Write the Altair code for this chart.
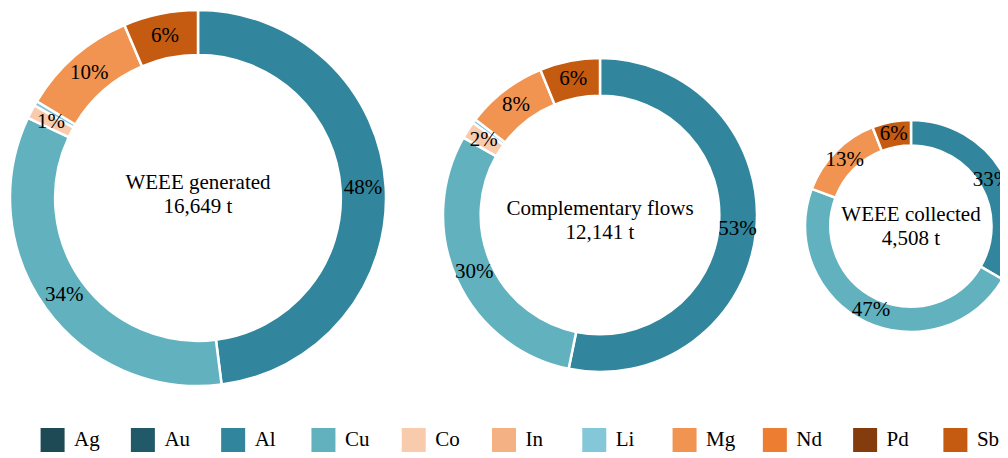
import altair as alt
import pandas as pd

elements = ["Ag", "Au", "Al", "Cu", "Co", "In", "Li", "Mg", "Nd", "Pd", "Sb"]
colors = ["#1d4a55", "#215968", "#31859c", "#61b2be", "#f8cbad", "#f4b183",
          "#84c7d8", "#f19452", "#ed7d31", "#843c0c", "#c55a11"]

# share (%) of each element in each flow
gen_elements = ["Al", "Cu", "Co", "Li", "Mg", "Sb"]
gen_values = [48.0, 34.0, 1.2, 0.4, 10.0, 6.4]
comp_elements = ["Al", "Cu", "Co", "Li", "Mg", "Sb"]
comp_values = [53.2, 30.0, 1.8, 0.4, 8.4, 6.2]
coll_elements = ["Al", "Cu", "Mg", "Sb"]
coll_values = [33.4, 47.3, 13.4, 5.9]

titles = ["WEEE generated\n16,649 t", "Complementary flows\n12,141 t", "WEEE collected\n4,508 t"]

FONT = "Liberation Serif"


def make_df(els, vals):
    df = pd.DataFrame({"element": els, "value": vals})
    df["idx"] = [elements.index(e) for e in els]
    df["label"] = [f"{int(v + 0.5)}%" if v >= 1 else "" for v in vals]
    return df


color_scale = alt.Scale(domain=elements, range=colors)


def donut(df, title, W, H, R, xoff=0, yoff=0, tdy=0):
    base = alt.Chart(df).encode(
        theta=alt.Theta("value:Q", stack=True),
        order=alt.Order("idx:Q"),
    )
    arcs = base.mark_arc(outerRadius=R, innerRadius=R * 0.76, stroke="white",
                         strokeWidth=2.5, clip=True, xOffset=xoff,
                         yOffset=yoff).encode(
        color=alt.Color("element:N", scale=color_scale, legend=None)
    )
    labels = base.mark_text(radius=R * 0.88, font=FONT, fontSize=21,
                            color="black", clip=True, xOffset=xoff,
                            yOffset=yoff).encode(text="label:N")
    center = alt.Chart(pd.DataFrame({"t": [title]})).mark_text(
        font=FONT, fontSize=21, color="black", lineBreak="\n", lineHeight=24,
        xOffset=xoff, yOffset=yoff, dy=tdy
    ).encode(text="t:N")
    return alt.layer(arcs, labels, center).properties(width=W, height=H)


p1 = donut(make_df(gen_elements, gen_values), titles[0], 380, 380, 188, 0, 0, -15)
p2 = donut(make_df(comp_elements, comp_values), titles[1], 404, 414, 157, 10, 0, -6)
p3 = donut(make_df(coll_elements, coll_values), titles[2], 208, 414, 106, 15, 11, -11)

# legend row drawn with a point scale over the element list
leg_df = pd.DataFrame({"element": elements})
leg_base = alt.Chart(leg_df).encode(
    x=alt.X("element:N", sort=elements,
            scale=alt.Scale(type="point", padding=0.494), axis=None)
)
leg_sq = leg_base.mark_square(size=576, opacity=1).encode(
    color=alt.Color("element:N", scale=color_scale, legend=None)
)
leg_tx = leg_base.mark_text(align="left", dx=21.5, font=FONT, fontSize=21,
                            color="black").encode(text="element:N")
legend_row = alt.layer(leg_sq, leg_tx).properties(width=992, height=24)

top = alt.hconcat(p1, p2, p3, spacing=0)
chart = alt.vconcat(top, legend_row, spacing=6).resolve_scale(
    color="shared"
).properties(padding=0).configure_view(stroke=None)

chart.save("out.html", embed_options={"renderer": "svg", "actions": False})
